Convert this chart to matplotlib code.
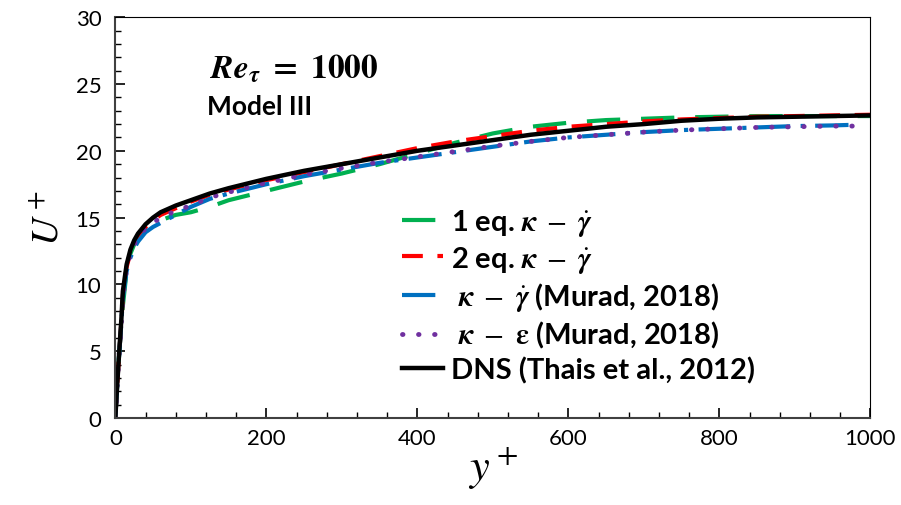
import matplotlib.pyplot as plt
from matplotlib.ticker import MultipleLocator

plt.rcParams['font.family'] = ['Lato', 'DejaVu Sans']
plt.rcParams['mathtext.fontset'] = 'stix'

# y+ grid shared by the curves
yp = [0, 1, 2, 4, 6, 8, 10, 15, 20, 25, 30, 40, 50, 60, 80, 100, 125, 150, 200,
      250, 300, 350, 400, 450, 500, 550, 600, 650, 700, 750, 800, 850, 900, 950, 1000]

u_dns = [0, 1.0, 2.0, 3.9, 5.7, 7.4, 9.5, 11.5, 12.6, 13.3, 13.8, 14.5, 15.0, 15.4, 15.9,
         16.3, 16.8, 17.2, 17.9, 18.5, 19.0, 19.5, 20.0, 20.4, 20.8, 21.2, 21.5, 21.8,
         22.0, 22.25, 22.4, 22.5, 22.55, 22.6, 22.65]
u_1eq = [0, 1.0, 2.0, 3.9, 5.5, 7.0, 8.4, 11.0, 12.3, 13.0, 13.4, 14.0, 14.5, 14.8, 15.2,
         15.4, 15.8, 16.3, 17.0, 17.7, 18.3, 19.0, 19.8, 20.6, 21.3, 21.8, 22.1, 22.3,
         22.4, 22.5, 22.55, 22.6, 22.6, 22.6, 22.6]
u_2eq = [0, 1.0, 2.0, 3.9, 5.5, 7.2, 9.2, 11.3, 12.4, 13.1, 13.6, 14.3, 14.8, 15.2, 15.7,
         16.2, 16.7, 17.1, 17.8, 18.4, 19.0, 19.6, 20.2, 20.7, 21.1, 21.5, 21.8, 22.0,
         22.2, 22.35, 22.45, 22.55, 22.6, 22.65, 22.7]

yp_m = yp[:-1] + [980]
u_kg = [0, 1.0, 2.0, 3.9, 5.5, 7.1, 9.0, 11.0, 12.0, 12.7, 13.2, 13.9, 14.3, 14.6, 15.2,
        15.8, 16.4, 16.8, 17.5, 18.1, 18.6, 19.1, 19.5, 19.9, 20.3, 20.7, 21.0, 21.2,
        21.4, 21.55, 21.65, 21.75, 21.85, 21.9, 21.95]
u_ke = [0, 1.0, 2.0, 3.9, 5.5, 7.1, 9.0, 11.2, 12.3, 13.0, 13.5, 14.2, 14.6, 15.0, 15.5,
        15.9, 16.5, 16.9, 17.6, 18.2, 18.7, 19.15, 19.55, 19.95, 20.35, 20.7, 21.0, 21.2,
        21.4, 21.55, 21.65, 21.75, 21.8, 21.85, 21.85]

fig = plt.figure(figsize=(9.01, 5.06), dpi=100)
ax = fig.add_axes([0.128, 0.172, 0.838, 0.792])

kg = r'$\boldsymbol{\kappa}\ -\ \dot{\boldsymbol{\gamma}}$'
ke = r'$\boldsymbol{\kappa}\ -\ \boldsymbol{\varepsilon}$'
ax.plot(yp, u_1eq, color='#00b050', lw=3, dashes=(8, 5), label='1 eq. ' + kg)
ax.plot(yp, u_2eq, color='#ff0000', lw=3, dashes=(5, 3.5), label='2 eq. ' + kg)
ax.plot(yp_m, u_kg, color='#0070c0', lw=3, dashes=(8, 2.5, 1, 2.5),
        label=' ' + kg + ' (Murad, 2018)')
ax.plot(yp_m, u_ke, color='#7030a0', lw=3.5, linestyle=(0, (0.1, 3.2)),
        dash_capstyle='round', label=' ' + ke + ' (Murad, 2018)')
ax.plot(yp, u_dns, color='black', lw=3.2, label='DNS (Thais et al., 2012)')

ax.set_xlim(0, 1000)
ax.set_ylim(0, 30)
ax.xaxis.set_major_locator(MultipleLocator(200))
ax.xaxis.set_minor_locator(MultipleLocator(40))
ax.yaxis.set_major_locator(MultipleLocator(5))
ax.yaxis.set_minor_locator(MultipleLocator(1))
ax.tick_params(which='both', direction='in', top=False, right=False, labelsize=16)
ax.tick_params(which='major', length=7, width=1.2)
ax.tick_params(which='minor', length=4, width=1)
ax.tick_params(axis='x', pad=7)
ax.tick_params(axis='y', pad=10)
for s in ['left', 'bottom']:
    ax.spines[s].set_linewidth(1.5)
    ax.spines[s].set_color('#404040')

ax.set_xlabel(r'$y^+$', fontsize=32, labelpad=-2)
ax.set_ylabel(r'$U^+$', fontsize=28, labelpad=8)

ax.text(0.125, 0.875, r'$\boldsymbol{Re}_{\boldsymbol{\tau}}\ \mathbf{=\ 1000}$',
        transform=ax.transAxes, fontsize=24, va='center')
ax.text(0.122, 0.778, 'Model III', transform=ax.transAxes, fontsize=19,
        fontweight='bold', va='center')

leg = ax.legend(loc='lower left', bbox_to_anchor=(0.36, 0.05), frameon=False,
                prop={'size': 21, 'weight': 'bold'}, handlelength=1.4,
                handletextpad=0.3, labelspacing=0.2, borderpad=0)

fig.savefig('out.png', dpi=100)
